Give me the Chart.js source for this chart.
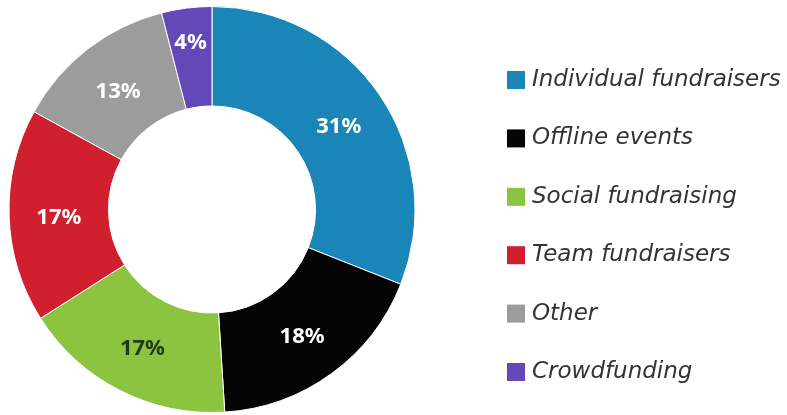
<!DOCTYPE html>
<html>
<head>
<meta charset="utf-8">
<script src="https://cdn.jsdelivr.net/npm/chart.js@4/dist/chart.umd.min.js"></script>
<style>
  html, body { margin: 0; padding: 0; background: #fff; }
  #wrap { position: relative; width: 787px; height: 415px; }
</style>
</head>
<body>
<div id="wrap"><canvas id="chart" width="787" height="415"></canvas></div>
<script>
  // chart data
  var categories = ['Individual fundraisers', 'Offline events', 'Social fundraising', 'Team fundraisers', 'Other', 'Crowdfunding'];
  var shares = [31, 18, 17, 17, 13, 4];
  var colors = ['#1a86b8', '#050505', '#8cc43f', '#d0202e', '#9c9c9c', '#6548b8'];
  var labelColors = ['#ffffff', '#ffffff', '#1f3a16', '#ffffff', '#ffffff', '#ffffff'];

  // draws "31%" etc. in the middle of each ring segment
  var sliceLabels = {
    id: 'sliceLabels',
    afterDatasetsDraw: function (chart) {
      var ctx = chart.ctx;
      var meta = chart.getDatasetMeta(0);
      ctx.save();
      ctx.font = 'bold 22px "Noto Sans", sans-serif';
      ctx.textAlign = 'center';
      ctx.textBaseline = 'middle';
      meta.data.forEach(function (arc, i) {
        var p = arc.getProps(['x', 'y', 'startAngle', 'endAngle', 'innerRadius', 'outerRadius'], true);
        var mid = (p.startAngle + p.endAngle) / 2;
        // thin slices get their label pushed out toward the rim
        var f = shares[i] < 8 ? 0.68 : 0.5;
        var r = p.innerRadius + (p.outerRadius - p.innerRadius) * f;
        ctx.fillStyle = labelColors[i];
        ctx.fillText(shares[i] + '%', p.x + Math.cos(mid) * r, p.y + Math.sin(mid) * r + 3);
      });
      ctx.restore();
    }
  };

  // legend drawn at the right, laid out like the original
  var sideLegend = {
    id: 'sideLegend',
    afterDraw: function (chart) {
      var ctx = chart.ctx;
      var x0 = 507, y0 = 80, step = 58.4, box = 18;
      ctx.save();
      ctx.font = 'italic 23px "DejaVu Sans", sans-serif';
      ctx.textBaseline = 'middle';
      ctx.textAlign = 'left';
      categories.forEach(function (name, i) {
        var y = y0 + i * step;
        ctx.fillStyle = colors[i];
        ctx.fillRect(x0, y - box / 2, box, box);
        ctx.fillStyle = '#333333';
        ctx.fillText(name, x0 + box + 7, y);
      });
      ctx.restore();
    }
  };

  new Chart(document.getElementById('chart'), {
    type: 'doughnut',
    data: {
      labels: categories,
      datasets: [{
        data: shares,
        backgroundColor: colors,
        borderColor: '#ffffff',
        borderWidth: 1
      }]
    },
    options: {
      responsive: false,
      animation: false,
      cutout: '51%',
      layout: { padding: { left: 8, right: 371, top: 6, bottom: 2 } },
      plugins: {
        legend: { display: false },
        tooltip: { enabled: false }
      }
    },
    plugins: [sliceLabels, sideLegend]
  });
</script>
</body>
</html>
